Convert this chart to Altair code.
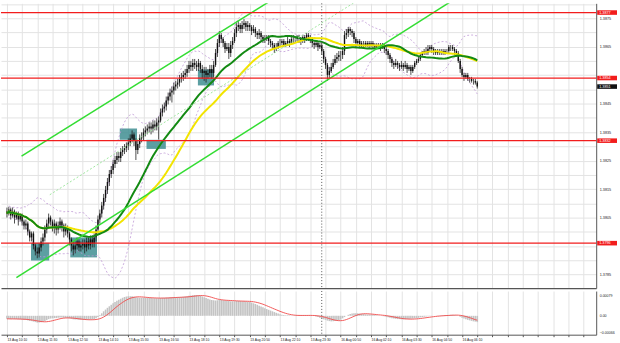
import altair as alt
import pandas as pd

# ---------------- data (M5 candles, 13 Aug 10:10 -> 16 Aug 06:50) ----------------
first_open = 1.38071
close = [
1.38064, 1.38078, 1.38057, 1.38071, 1.38050, 1.38064, 1.38043, 1.38057,
1.38036, 1.38022, 1.38029, 1.38001, 1.37980, 1.37994, 1.37952, 1.37931,
1.37924, 1.37945, 1.37966, 1.37980, 1.38008, 1.38029, 1.38050, 1.38036,
1.38015, 1.38029, 1.38008, 1.38022, 1.38036, 1.38022, 1.38001, 1.38015,
1.37994, 1.37973, 1.37952, 1.37938, 1.37952, 1.37966, 1.37945, 1.37952,
1.37959, 1.37945, 1.37966, 1.37952, 1.37973, 1.37959, 1.37980, 1.38008,
1.38043, 1.38064, 1.38092, 1.38119, 1.38147, 1.38175, 1.38203, 1.38217,
1.38238, 1.38252, 1.38266, 1.38259, 1.38280, 1.38287, 1.38294, 1.38301,
1.38314, 1.38328, 1.38342, 1.38321, 1.38287, 1.38308, 1.38328, 1.38335,
1.38349, 1.38356, 1.38363, 1.38370, 1.38363, 1.38377, 1.38370, 1.38384,
1.38391, 1.38419, 1.38433, 1.38440, 1.38461, 1.38475, 1.38489, 1.38496,
1.38510, 1.38517, 1.38524, 1.38537, 1.38544, 1.38551, 1.38558, 1.38572,
1.38586, 1.38579, 1.38593, 1.38586, 1.38579, 1.38593, 1.38572, 1.38558,
1.38565, 1.38551, 1.38558, 1.38572, 1.38558, 1.38586, 1.38628, 1.38663,
1.38691, 1.38677, 1.38663, 1.38642, 1.38649, 1.38628, 1.38656, 1.38670,
1.38698, 1.38719, 1.38726, 1.38712, 1.38726, 1.38733, 1.38719, 1.38726,
1.38719, 1.38705, 1.38712, 1.38698, 1.38691, 1.38698, 1.38684, 1.38677,
1.38677, 1.38684, 1.38670, 1.38663, 1.38656, 1.38642, 1.38649, 1.38663,
1.38663, 1.38670, 1.38656, 1.38663, 1.38670, 1.38663, 1.38677, 1.38677,
1.38677, 1.38684, 1.38677, 1.38670, 1.38684, 1.38677, 1.38691, 1.38684,
1.38677, 1.38663, 1.38656, 1.38663, 1.38649, 1.38656, 1.38635, 1.38607,
1.38586, 1.38551, 1.38565, 1.38579, 1.38593, 1.38607, 1.38614, 1.38621,
1.38621, 1.38635, 1.38691, 1.38698, 1.38712, 1.38705, 1.38698, 1.38677,
1.38663, 1.38670, 1.38656, 1.38663, 1.38663, 1.38656, 1.38663, 1.38656,
1.38663, 1.38656, 1.38649, 1.38656, 1.38656, 1.38649, 1.38656, 1.38642,
1.38635, 1.38621, 1.38607, 1.38593, 1.38586, 1.38593, 1.38586, 1.38579,
1.38586, 1.38579, 1.38586, 1.38572, 1.38579, 1.38565, 1.38579, 1.38593,
1.38600, 1.38607, 1.38621, 1.38628, 1.38635, 1.38628, 1.38642, 1.38649,
1.38642, 1.38635, 1.38628, 1.38635, 1.38628, 1.38635, 1.38628, 1.38635,
1.38635, 1.38649, 1.38649, 1.38642, 1.38635, 1.38628, 1.38600, 1.38572,
1.38551, 1.38544, 1.38551, 1.38537, 1.38537, 1.38530, 1.38530, 1.38524, 1.38510,
]
high = [
1.38085, 1.38088, 1.38085, 1.38085, 1.38078, 1.38071, 1.38071, 1.38064,
1.38064, 1.38043, 1.38043, 1.38036, 1.38008, 1.38001, 1.38001, 1.37959,
1.37945, 1.37959, 1.37980, 1.37994, 1.38022, 1.38043, 1.38064, 1.38057,
1.38043, 1.38043, 1.38036, 1.38036, 1.38050, 1.38043, 1.38029, 1.38029,
1.38022, 1.38001, 1.37980, 1.37966, 1.37966, 1.37980, 1.37973, 1.37966,
1.37973, 1.37973, 1.37980, 1.37980, 1.37987, 1.37987, 1.37994, 1.38022,
1.38057, 1.38078, 1.38105, 1.38133, 1.38161, 1.38189, 1.38217, 1.38231,
1.38252, 1.38266, 1.38280, 1.38280, 1.38294, 1.38301, 1.38308, 1.38314,
1.38328, 1.38342, 1.38356, 1.38349, 1.38328, 1.38321, 1.38342, 1.38349,
1.38363, 1.38370, 1.38377, 1.38384, 1.38384, 1.38391, 1.38391, 1.38398,
1.38405, 1.38433, 1.38447, 1.38454, 1.38475, 1.38489, 1.38503, 1.38510,
1.38524, 1.38530, 1.38537, 1.38551, 1.38558, 1.38565, 1.38572, 1.38586,
1.38600, 1.38600, 1.38607, 1.38607, 1.38600, 1.38607, 1.38600, 1.38586,
1.38579, 1.38579, 1.38572, 1.38586, 1.38586, 1.38600, 1.38642, 1.38677,
1.38705, 1.38698, 1.38684, 1.38670, 1.38663, 1.38663, 1.38670, 1.38684,
1.38712, 1.38733, 1.38740, 1.38733, 1.38740, 1.38747, 1.38740, 1.38740,
1.38733, 1.38726, 1.38726, 1.38719, 1.38705, 1.38712, 1.38705, 1.38691,
1.38691, 1.38691, 1.38691, 1.38677, 1.38670, 1.38663, 1.38663, 1.38670,
1.38677, 1.38677, 1.38677, 1.38670, 1.38684, 1.38677, 1.38691, 1.38691,
1.38687, 1.38691, 1.38691, 1.38684, 1.38691, 1.38691, 1.38698, 1.38698,
1.38691, 1.38684, 1.38670, 1.38670, 1.38670, 1.38663, 1.38663, 1.38642,
1.38614, 1.38593, 1.38579, 1.38593, 1.38607, 1.38621, 1.38628, 1.38635,
1.38635, 1.38649, 1.38705, 1.38712, 1.38719, 1.38719, 1.38712, 1.38705,
1.38684, 1.38677, 1.38677, 1.38670, 1.38670, 1.38670, 1.38670, 1.38670,
1.38670, 1.38670, 1.38663, 1.38663, 1.38663, 1.38663, 1.38663, 1.38663,
1.38649, 1.38642, 1.38628, 1.38614, 1.38600, 1.38607, 1.38600, 1.38593,
1.38600, 1.38593, 1.38600, 1.38593, 1.38586, 1.38586, 1.38586, 1.38600,
1.38607, 1.38614, 1.38628, 1.38635, 1.38642, 1.38649, 1.38656, 1.38656,
1.38656, 1.38649, 1.38642, 1.38642, 1.38642, 1.38642, 1.38642, 1.38642,
1.38642, 1.38656, 1.38656, 1.38656, 1.38649, 1.38642, 1.38635, 1.38607,
1.38579, 1.38558, 1.38558, 1.38558, 1.38544, 1.38544, 1.38537, 1.38537, 1.38530,
]
low = [
1.38050, 1.38057, 1.38043, 1.38050, 1.38029, 1.38043, 1.38022, 1.38036,
1.38022, 1.38008, 1.38008, 1.37987, 1.37966, 1.37966, 1.37938, 1.37917,
1.37907, 1.37910, 1.37931, 1.37952, 1.37966, 1.37994, 1.38015, 1.38022,
1.38001, 1.37994, 1.37987, 1.37994, 1.38008, 1.38001, 1.37980, 1.37987,
1.37980, 1.37952, 1.37931, 1.37917, 1.37924, 1.37938, 1.37931, 1.37931,
1.37938, 1.37924, 1.37931, 1.37938, 1.37938, 1.37945, 1.37945, 1.37966,
1.37994, 1.38029, 1.38050, 1.38078, 1.38105, 1.38133, 1.38161, 1.38189,
1.38203, 1.38224, 1.38238, 1.38245, 1.38245, 1.38266, 1.38273, 1.38280,
1.38287, 1.38301, 1.38314, 1.38301, 1.38252, 1.38273, 1.38294, 1.38314,
1.38321, 1.38335, 1.38342, 1.38349, 1.38342, 1.38349, 1.38356, 1.38356,
1.38324, 1.38384, 1.38405, 1.38419, 1.38426, 1.38447, 1.38461, 1.38454,
1.38482, 1.38496, 1.38503, 1.38510, 1.38524, 1.38530, 1.38537, 1.38544,
1.38558, 1.38565, 1.38565, 1.38572, 1.38565, 1.38565, 1.38558, 1.38537,
1.38530, 1.38524, 1.38537, 1.38544, 1.38537, 1.38544, 1.38579, 1.38614,
1.38649, 1.38663, 1.38649, 1.38628, 1.38635, 1.38607, 1.38614, 1.38642,
1.38663, 1.38684, 1.38705, 1.38698, 1.38698, 1.38712, 1.38705, 1.38705,
1.38705, 1.38691, 1.38698, 1.38684, 1.38677, 1.38677, 1.38670, 1.38663,
1.38663, 1.38670, 1.38656, 1.38649, 1.38642, 1.38628, 1.38635, 1.38642,
1.38649, 1.38656, 1.38649, 1.38649, 1.38656, 1.38649, 1.38656, 1.38663,
1.38663, 1.38670, 1.38663, 1.38656, 1.38663, 1.38663, 1.38670, 1.38670,
1.38663, 1.38649, 1.38642, 1.38649, 1.38635, 1.38642, 1.38621, 1.38593,
1.38572, 1.38530, 1.38537, 1.38558, 1.38572, 1.38586, 1.38593, 1.38600,
1.38600, 1.38607, 1.38621, 1.38677, 1.38684, 1.38691, 1.38684, 1.38663,
1.38649, 1.38656, 1.38649, 1.38649, 1.38649, 1.38649, 1.38649, 1.38642,
1.38649, 1.38642, 1.38642, 1.38642, 1.38642, 1.38635, 1.38642, 1.38628,
1.38621, 1.38607, 1.38593, 1.38579, 1.38572, 1.38579, 1.38572, 1.38565,
1.38572, 1.38565, 1.38572, 1.38558, 1.38565, 1.38551, 1.38558, 1.38572,
1.38586, 1.38593, 1.38600, 1.38614, 1.38621, 1.38621, 1.38621, 1.38635,
1.38628, 1.38621, 1.38621, 1.38621, 1.38621, 1.38621, 1.38621, 1.38621,
1.38628, 1.38628, 1.38635, 1.38635, 1.38621, 1.38614, 1.38593, 1.38558,
1.38544, 1.38530, 1.38537, 1.38530, 1.38524, 1.38524, 1.38517, 1.38517, 1.38503,
]
# MACD main values, in units of 0.00001
macd_e5 = [
-12, -12, -13, -12, -13, -13, -14, -14,
-15, -16, -16, -18, -20, -21, -23, -25,
-27, -27, -26, -24, -21, -17, -13, -11,
-10, -9, -9, -8, -7, -7, -8, -8,
-9, -10, -12, -14, -15, -15, -16, -16,
-16, -16, -16, -16, -15, -14, -13, -10,
-5, 3, 10, 18, 25, 32, 38, 44,
50, 55, 60, 64, 68, 72, 75, 77,
78, 78, 78, 76, 74, 73, 72, 72,
72, 72, 72, 71, 71, 70, 70, 70,
70, 71, 72, 72, 73, 73, 74, 74,
74, 74, 75, 75, 75, 76, 77, 78,
80, 81, 82, 83, 83, 82, 80, 77,
74, 71, 68, 65, 63, 62, 61, 62,
63, 63, 62, 61, 60, 59, 58, 58,
58, 59, 59, 59, 58, 58, 57, 56,
55, 53, 50, 47, 44, 40, 37, 34,
30, 27, 24, 21, 18, 15, 12, 9,
6, 4, 3, 2, 2, 2, 1, 1,
1, 1, 2, 2, 2, 2, 2, 2,
1, 0, -1, -3, -5, -8, -11, -14,
-16, -19, -21, -22, -22, -21, -20, -18,
-15, -10, -5, 0, 4, 7, 9, 10,
10, 10, 9, 8, 7, 6, 5, 5,
4, 4, 3, 2, 1, 0, -1, -2,
-4, -6, -8, -10, -11, -12, -13, -13,
-14, -14, -14, -13, -13, -12, -11, -10,
-9, -8, -6, -5, -4, -3, -2, -1,
-1, 0, 0, 1, 1, 2, 2, 3,
3, 3, 4, 4, 3, 2, 0, -4,
-8, -11, -14, -16, -18, -20, -22, -23, -25,
]

x_labels = ["13 Aug 10:10", "13 Aug 11:30", "13 Aug 12:50", "13 Aug 14:10",
            "13 Aug 15:30", "13 Aug 16:50", "13 Aug 18:10", "13 Aug 19:30",
            "13 Aug 20:50", "13 Aug 22:10", "13 Aug 23:30", "16 Aug 00:50",
            "16 Aug 02:10", "16 Aug 03:30", "16 Aug 04:50", "16 Aug 06:10"]
# right-axis price labels that show (the others sit under the price tags)
y_labels = [1.3875, 1.3865, 1.3845, 1.3835, 1.3825, 1.3815, 1.3805, 1.3785]

level_prices = [1.3877, 1.3854, 1.3832, 1.3796]
level_texts = ["1.3877", "1.3854", "1.3832", "1.3796"]
last_price = 1.3851
last_text = "1.3851"

# highlighted zones (candle index span, price span)
box_i0 = [12.7, 33.4, 59.5, 73.6, 100.7]
box_i1 = [22.3, 47.5, 68.6, 83.8, 109.2]
box_top = [1.37961, 1.37980, 1.38363, 1.38323, 1.38570]
box_bot = [1.37899, 1.37910, 1.38323, 1.38291, 1.38514]

# trend lines (candle index, price)
up_i = [7.7, 150.0]
up_p = [1.38266, 1.38857]
lo_i = [5.0, 245.0]
lo_p = [1.37839, 1.38855]
dot_i = [22.6, 195.0]
dot_p = [1.38130, 1.38855]

day_break = [166]

# ---------------- frames ----------------
n = min(len(close), len(high), len(low), len(macd_e5))
opens = ([first_open] + close[:-1])[:n]
df = pd.DataFrame({
    "i": list(range(n)), "open": opens, "high": high[:n], "low": low[:n],
    "close": close[:n], "macd": [v / 1e5 for v in macd_e5[:n]],
})
boxes = pd.DataFrame({"i0": box_i0, "i1": box_i1, "top": box_top, "bot": box_bot})
up_df = pd.DataFrame({"i": up_i, "p": up_p})
lo_df = pd.DataFrame({"i": lo_i, "p": lo_p})
dot_df = pd.DataFrame({"i": dot_i, "p": dot_p})
lev_df = pd.DataFrame({"p": level_prices})
tag_df = pd.DataFrame({
    "p": level_prices + [last_price],
    "txt": level_texts + [last_text],
    "bg": ["#f21d1d"] * len(level_prices) + ["#111111"],
})
day_df = pd.DataFrame({"d": day_break})

FONT = "Liberation Sans"
xs = alt.Scale(domain=[-0.514, 308.1], nice=False, zero=False)
ys = alt.Scale(domain=[1.378023, 1.388023], nice=False, zero=False)
ms = alt.Scale(domain=[-0.000751, 0.000988], nice=False, zero=False)

grid_x = list(range(0, 309, 8))
grid_y = [round(1.3780 + 0.0005 * k, 4) for k in range(1, 21)]
show_codes = ",".join(str(int(round(v * 10000))) for v in y_labels)

main_x_axis = alt.Axis(values=grid_x, labels=False, ticks=False, domain=True,
                       domainColor="#555555", domainWidth=1.2, grid=True, title=None)
main_y_axis = alt.Axis(orient="right", values=grid_y, title=None, grid=True,
                       ticks=False, domain=True, domainColor="#555555",
                       labelPadding=3, labelFontSize=3.8, labelFont=FONT,
                       labelColor="#222222", labelOverlap=False, labelBound=False,
                       labelExpr=f"indexof([{show_codes}], round(datum.value*10000)) >= 0 ? format(datum.value, '.4f') : ''")


def X(f):
    return alt.X(f"{f}:Q", scale=xs, axis=main_x_axis)


def Y(f):
    return alt.Y(f"{f}:Q", scale=ys, axis=main_y_axis)


srt = [alt.SortField("i")]
base = alt.Chart(df)

box_layer = alt.Chart(boxes).mark_rect(color="#3f8e92", opacity=0.85).encode(
    x=X("i0"), x2="i1", y=Y("top"), y2="bot")

bb = base.transform_window(mid="mean(close)", sd="stdev(close)", frame=[-19, 0], sort=srt
                           ).transform_calculate(up="datum.mid + 2*datum.sd",
                                                 lo="datum.mid - 2*datum.sd")
bb_up = bb.mark_line(color="#c09ad6", strokeWidth=0.8, strokeDash=[2, 2], clip=True).encode(
    x=X("i"), y=Y("up"))
bb_lo = bb.mark_line(color="#c09ad6", strokeWidth=0.8, strokeDash=[2, 2], clip=True).encode(
    x=X("i"), y=Y("lo"))

wick = base.mark_rule(color="#222222", strokeWidth=0.8).encode(x=X("i"), y=Y("low"), y2="high")
body = base.mark_bar(size=1.4, color="#111111").encode(x=X("i"), y=Y("open"), y2="close")

ma_slow = base.transform_window(ma="mean(close)", frame=[-49, 0], sort=srt).mark_line(
    color="#f2e400", strokeWidth=2, clip=True).encode(x=X("i"), y=Y("ma"))
ma_fast = base.transform_window(ma="mean(close)", frame=[-29, 0], sort=srt).mark_line(
    color="#138a13", strokeWidth=2, clip=True).encode(x=X("i"), y=Y("ma"))

t_dot = alt.Chart(dot_df).mark_line(color="#9fe69f", strokeWidth=1, strokeDash=[2, 2], clip=True).encode(
    x=X("i"), y=Y("p"))
t_up = alt.Chart(up_df).mark_line(color="#33dd33", strokeWidth=1.5, clip=True).encode(x=X("i"), y=Y("p"))
t_lo = alt.Chart(lo_df).mark_line(color="#33dd33", strokeWidth=1.5, clip=True).encode(x=X("i"), y=Y("p"))

lev = alt.Chart(lev_df).mark_rule(color="#f21d1d", strokeWidth=1.3).encode(y=Y("p"))
day_main = alt.Chart(day_df).mark_rule(color="#555555", strokeWidth=1, strokeDash=[1, 2]).encode(x=X("d"))

tag_bg = alt.Chart(tag_df).mark_rule(strokeWidth=4.6, strokeCap="butt").encode(
    x=alt.value(601), x2=alt.value(621), y=Y("p"), color=alt.Color("bg:N", scale=None))
tag_txt = alt.Chart(tag_df).mark_text(align="left", baseline="middle", fontSize=3.8,
                                      font=FONT, color="white").encode(
    x=alt.value(603), y=Y("p"), text="txt:N")

main = alt.layer(box_layer, bb_up, bb_lo, wick, body, ma_slow, ma_fast, t_dot, t_up, t_lo,
                 lev, day_main, tag_bg, tag_txt).properties(width=600, height=287)

# ---------------- MACD panel ----------------
lab_arr = "[" + ",".join("'" + s + "'" for s in x_labels) + "]"
macd_x_axis = alt.Axis(values=grid_x, title=None, grid=True, ticks=True, tickSize=2,
                       tickColor="#555555", domain=True, domainColor="#555555",
                       labelAlign="left", labelPadding=1, labelFontSize=3.4, labelFont=FONT,
                       labelColor="#222222", labelFlush=False, labelOverlap=False,
                       labelBound=False,
                       labelExpr=f"(datum.value % 16 == 0 && datum.value/16 < {len(x_labels)}) ? {lab_arr}[datum.value/16] : ''")
macd_y_axis = alt.Axis(orient="right", values=[0.00079, 0, -0.00066], title=None, grid=False,
                       ticks=False, domain=True, domainColor="#555555", labelPadding=3,
                       labelFontSize=3.6, labelFont=FONT, labelColor="#222222",
                       labelOverlap=False, labelBound=False,
                       labelExpr="datum.value == 0 ? '0.00' : format(datum.value, '.5f')")


def XM(f):
    return alt.X(f"{f}:Q", scale=xs, axis=macd_x_axis)


def YM(f):
    return alt.Y(f"{f}:Q", scale=ms, axis=macd_y_axis)


hist = base.mark_bar(size=1.6, color="#c4c4c4").encode(x=XM("i"), y=YM("macd"), y2=alt.datum(0))
sig = base.transform_window(sig="mean(macd)", frame=[-8, 0], sort=srt).mark_line(
    color="#f04a4a", strokeWidth=0.9).encode(x=XM("i"), y=YM("sig"))
day_macd = alt.Chart(day_df).mark_rule(color="#555555", strokeWidth=1, strokeDash=[1, 2]).encode(x=XM("d"))

macd = alt.layer(hist, sig, day_macd).properties(width=600, height=44)

chart = alt.vconcat(main, macd, spacing=1).properties(
    padding={"left": 0, "top": 0, "right": 0, "bottom": 0}, background="white"
).configure_view(stroke=None).configure_axis(gridColor="#e3e3e3", gridWidth=1)

chart.save("out.html", embed_options={"renderer": "svg", "actions": False})
